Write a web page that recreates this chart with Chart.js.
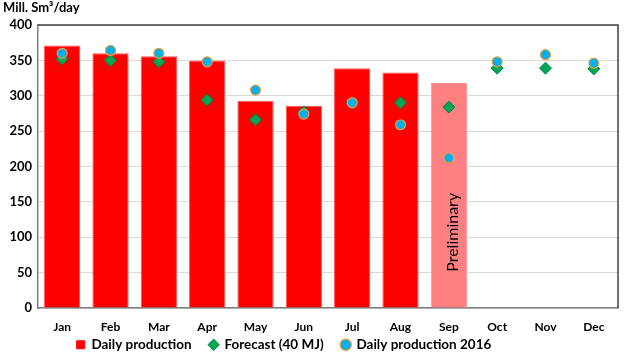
<!DOCTYPE html>
<html><head><meta charset="utf-8">
<script src="https://cdn.jsdelivr.net/npm/chart.js@4.4.1/dist/chart.umd.min.js"></script>
<style>html,body{margin:0;padding:0;background:#fff}#wrap{width:625px;height:355px}</style>
</head><body><div id="wrap"><canvas id="c" width="625" height="355"></canvas></div>
<script>
const months = ['Jan','Feb','Mar','Apr','May','Jun','Jul','Aug','Sep','Oct','Nov','Dec'];
const dailyProduction = [371,360,356,350,293,286,339,333,318,null,null,null];
const forecast40MJ = [352,350,348,294,266,277,290,290,284,339,339,338];
const daily2016 = [360,364,360,348,308,274,290,259,212,348,358,346];
const yTicks = [0,50,100,150,200,250,300,350,400];
const unitLabel = 'Mill. Sm³/day';
const preliminaryLabel = 'Preliminary';
const preliminaryIndex = 8;

const FONT = 'Lato, "Liberation Sans", sans-serif';
const barColors = months.map((m,i)=> i===preliminaryIndex ? '#FF8080' : '#FF0000');
const LEG_PAD = 18, LEG_H = 19;

const extras = {
  id:'extras',
  afterInit(chart){
    const lg = chart.legend;
    if(lg){
      const orig = lg.fit.bind(lg);
      lg.fit = function(){ orig(); this.height = LEG_H; };
    }
  },
  afterLayout(chart){
    const lg = chart.legend;
    if(lg){ lg.left -= 26; lg.right -= 26; lg.top -= (LEG_PAD - 2); lg.bottom = chart.height; }
  },
  beforeDraw(chart){
    const ctx = chart.ctx;
    ctx.save();
    ctx.fillStyle = '#000';
    ctx.font = 'bold 13px ' + FONT;
    ctx.textBaseline = 'middle';
    ctx.textAlign = 'left';
    ctx.fillText(unitLabel, 3, 8);
    ctx.restore();
  },
  afterDatasetsDraw(chart){
    const ctx = chart.ctx, a = chart.chartArea;
    const xs = chart.scales.x, ys = chart.scales.y;
    ctx.save();
    ctx.translate(xs.getPixelForValue(preliminaryIndex)+4, ys.getPixelForValue(107));
    ctx.rotate(-Math.PI/2);
    ctx.font = '16px ' + FONT;
    ctx.fillStyle = '#000';
    ctx.textAlign = 'center';
    ctx.textBaseline = 'middle';
    ctx.fillText(preliminaryLabel, 0, 0);
    ctx.restore();
    ctx.save();
    ctx.strokeStyle = '#404040';
    ctx.lineWidth = 1.5;
    ctx.beginPath();
    ctx.moveTo(a.left, a.top); ctx.lineTo(a.right, a.top); ctx.lineTo(a.right, a.bottom);
    ctx.stroke();
    ctx.restore();
  }
};

new Chart(document.getElementById('c'), {
  data:{
    labels: months,
    datasets:[
      {type:'scatter', label:'Daily production 2016', data: daily2016, order:0,
        pointStyle:'circle', pointRadius:5, pointHoverRadius:5, backgroundColor:'#00B0F0', borderColor:'#F0A030', borderWidth:1.2, showLine:false},
      {type:'scatter', label:'Forecast (40 MJ)', data: forecast40MJ, order:1,
        pointStyle:'rectRot', pointRadius:6, pointHoverRadius:6, backgroundColor:'#00A650', borderColor:'#00804A', borderWidth:1, showLine:false},
      {type:'bar', label:'Daily production', data: dailyProduction, order:2,
        backgroundColor: barColors, borderColor: barColors.map(c=> c==='#FF0000' ? '#FF5050' : '#FF9090'), borderWidth:1,
        barPercentage:0.75, categoryPercentage:1, pointStyle:'rect'}
    ]
  },
  options:{
    responsive:false, animation:false,
    layout:{padding:{left:0,right:5,top:25,bottom:0}},
    plugins:{
      legend:{position:'bottom', reverse:true,
        labels:{usePointStyle:true, boxWidth:8, boxHeight:8, padding:LEG_PAD, color:'#000',
          font:{family:FONT, size:13.5, weight:'bold'},
          generateLabels(chart){
            const items = Chart.defaults.plugins.legend.labels.generateLabels(chart);
            items.forEach(it=>{
              if(it.text==='Daily production'){ it.fillStyle='#FF0000'; it.strokeStyle='#FF0000'; it.pointStyle='rect'; }
            });
            return items;
          }}},
      tooltip:{enabled:false}
    },
    scales:{
      x:{type:'category', offset:true,
        afterFit(s){ s.height = 28; },
        grid:{display:false, drawTicks:false},
        border:{color:'#808080', width:1.5},
        ticks:{color:'#000', font:{family:FONT, size:12, weight:'bold'}, padding:12}},
      y:{min:0, max:400,
        afterFit(s){ s.width = 38; },
        afterBuildTicks(s){ s.ticks = yTicks.map(v=>({value:v})); },
        grid:{color:'#D9D9D9', drawTicks:false},
        border:{color:'#808080', width:1.5},
        ticks:{color:'#000', font:{family:FONT, size:13, weight:'bold'}, padding:6}}
    }
  },
  plugins:[extras]
});
</script></body></html>
